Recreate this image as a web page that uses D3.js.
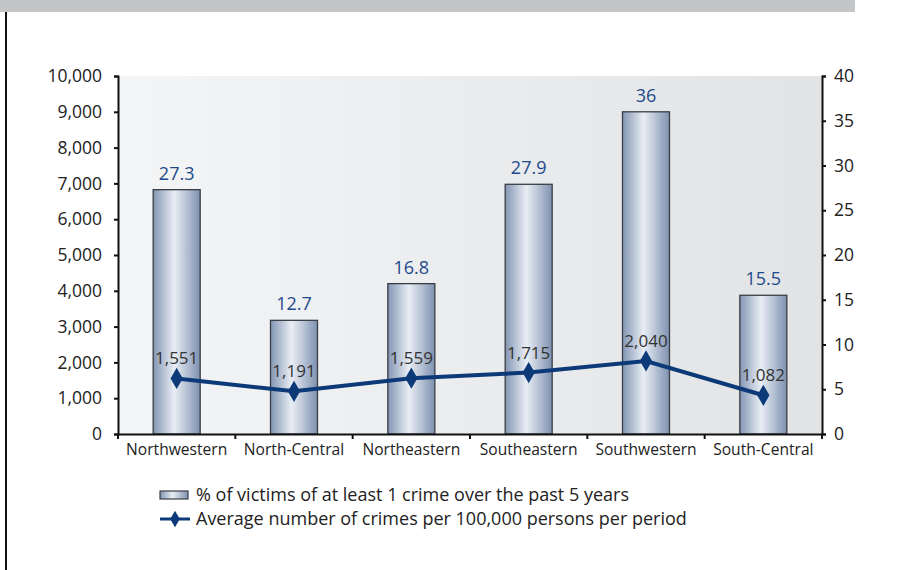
<!DOCTYPE html>
<meta charset="utf-8">
<script src="https://d3js.org/d3.v7.min.js"></script>
<style>
body { margin: 0; background: #fff; font-family: "Open Sans", sans-serif; }
.axis text { font-size: 17.5px; fill: #222; font-family: "Open Sans", sans-serif; }
.axis path, .axis line { stroke: #111; }
</style>
<div id="chart"></div>
<script>
// data
var regions = ["Northwestern", "North-Central", "Northeastern", "Southeastern", "Southwestern", "South-Central"];
var victimPct = [27.3, 12.7, 16.8, 27.9, 36, 15.5];
var crimeRate = [1551, 1191, 1559, 1715, 2040, 1082];
var leftTicks = [0, 1000, 2000, 3000, 4000, 5000, 6000, 7000, 8000, 9000, 10000];
var rightTicks = [0, 5, 10, 15, 20, 25, 30, 35, 40];
var legendLabels = ["% of victims of at least 1 crime over the past 5 years",
                    "Average number of crimes per 100,000 persons per period"];

var W = 901, H = 570;
var margin = {top: 76, right: 79, bottom: 136, left: 118},
    width = W - margin.left - margin.right,
    height = H - margin.top - margin.bottom;

var root = d3.select("#chart").append("svg")
    .attr("width", W).attr("height", H);

// decoration: gray band at top and vertical rule at left
root.append("rect").attr("x", 0).attr("y", 0).attr("width", 855).attr("height", 12).attr("fill", "#c4c5c7");
root.append("line").attr("x1", 6).attr("x2", 6).attr("y1", 12).attr("y2", H)
    .attr("stroke", "#111").attr("stroke-width", 2);

var defs = root.append("defs");
var bg = defs.append("linearGradient").attr("id", "bg").attr("x1", 0).attr("x2", 1).attr("y1", 0).attr("y2", 0);
bg.append("stop").attr("offset", "0%").attr("stop-color", "#f4f5f6");
bg.append("stop").attr("offset", "100%").attr("stop-color", "#e2e3e5");

var barGrad = defs.append("linearGradient").attr("id", "barg").attr("x1", 0).attr("x2", 1).attr("y1", 0).attr("y2", 0);
barGrad.append("stop").attr("offset", "0%").attr("stop-color", "#8396b4");
barGrad.append("stop").attr("offset", "45%").attr("stop-color", "#e9eef5");
barGrad.append("stop").attr("offset", "100%").attr("stop-color", "#7e91b0");

var svg = root.append("g").attr("transform", "translate(" + margin.left + "," + margin.top + ")");

svg.append("rect").attr("width", width).attr("height", height).attr("fill", "url(#bg)");

var xTick = d3.scaleBand().domain(regions).range([0, width]);
var yL = d3.scaleLinear().domain([0, 10000]).range([height, 0]);
var yR = d3.scaleLinear().domain([0, 40]).range([height, 0]);
var cx = function(d) { return xTick(d) + xTick.bandwidth() / 2; };

// bars
svg.selectAll(".bar").data(regions).enter().append("rect")
    .attr("x", function(d) { return cx(d) - 23.5; })
    .attr("width", 47)
    .attr("y", function(d, i) { return yR(victimPct[i]); })
    .attr("height", function(d, i) { return height - yR(victimPct[i]); })
    .attr("fill", "url(#barg)")
    .attr("stroke", "#3a3d44").attr("stroke-width", 1.3);

svg.selectAll(".blabel").data(regions).enter().append("text")
    .attr("x", cx)
    .attr("y", function(d, i) { return yR(victimPct[i]) - 10; })
    .attr("text-anchor", "middle")
    .attr("font-size", 18).attr("fill", "#1d4a8a")
    .text(function(d, i) { return victimPct[i]; });

// axes
svg.append("g").attr("class", "axis")
    .call(d3.axisLeft(yL).tickValues(leftTicks).tickFormat(d3.format(",")).tickSize(4).tickSizeOuter(4).tickPadding(12));
svg.append("g").attr("class", "axis").attr("transform", "translate(" + width + ",0)")
    .call(d3.axisRight(yR).tickValues(rightTicks).tickSize(4).tickSizeOuter(4).tickPadding(8));
var xTicks = regions.map(function(d) { return xTick(d); }).concat([width]);
var axX = svg.append("g").attr("class", "axis").attr("transform", "translate(0," + height + ")")
    .call(d3.axisBottom(xTick).tickSize(0).tickPadding(10));
axX.selectAll("text").style("font-size", "15.6px");
axX.selectAll(".sep").data(xTicks).enter().append("line").attr("class", "sep")
    .attr("x1", function(d) { return d; }).attr("x2", function(d) { return d; })
    .attr("y1", 0).attr("y2", 5).attr("stroke", "#111").attr("stroke-width", 2);
svg.selectAll(".axis path").attr("stroke-width", 2);
svg.selectAll(".axis .tick line").attr("stroke-width", 2);

// line
var line = d3.line()
    .x(function(d, i) { return cx(regions[i]); })
    .y(function(d) { return yL(d); });
svg.append("path").datum(crimeRate).attr("d", line)
    .attr("fill", "none").attr("stroke", "#0c3a78").attr("stroke-width", 4);
var diamond = d3.symbol().type(d3.symbolDiamond).size(130);
svg.selectAll(".pt").data(crimeRate).enter().append("path")
    .attr("d", diamond)
    .attr("transform", function(d, i) { return "translate(" + cx(regions[i]) + "," + yL(d) + ")"; })
    .attr("fill", "#0c3a78");
svg.selectAll(".llabel").data(crimeRate).enter().append("text")
    .attr("x", function(d, i) { return cx(regions[i]); })
    .attr("y", function(d) { return yL(d) - 14; })
    .attr("text-anchor", "middle")
    .attr("font-size", 17).attr("fill", "#333")
    .text(function(d) { return d3.format(",")(d); });

// legend
var lg = root.append("g").attr("transform", "translate(160,495)");
lg.append("rect").attr("x", 0).attr("y", -4).attr("width", 28).attr("height", 8)
    .attr("fill", "url(#barg)").attr("stroke", "#3a3d44").attr("stroke-width", 1.2);
lg.append("text").attr("x", 36).attr("y", 6).attr("font-size", 18).attr("fill", "#222").text(legendLabels[0]);
lg.append("line").attr("x1", 0).attr("x2", 30).attr("y1", 24).attr("y2", 24)
    .attr("stroke", "#0c3a78").attr("stroke-width", 3);
lg.append("path").attr("d", d3.symbol().type(d3.symbolDiamond).size(80))
    .attr("transform", "translate(15,24)").attr("fill", "#0c3a78");
lg.append("text").attr("x", 36).attr("y", 30).attr("font-size", 18).attr("fill", "#222").text(legendLabels[1]);
</script>
